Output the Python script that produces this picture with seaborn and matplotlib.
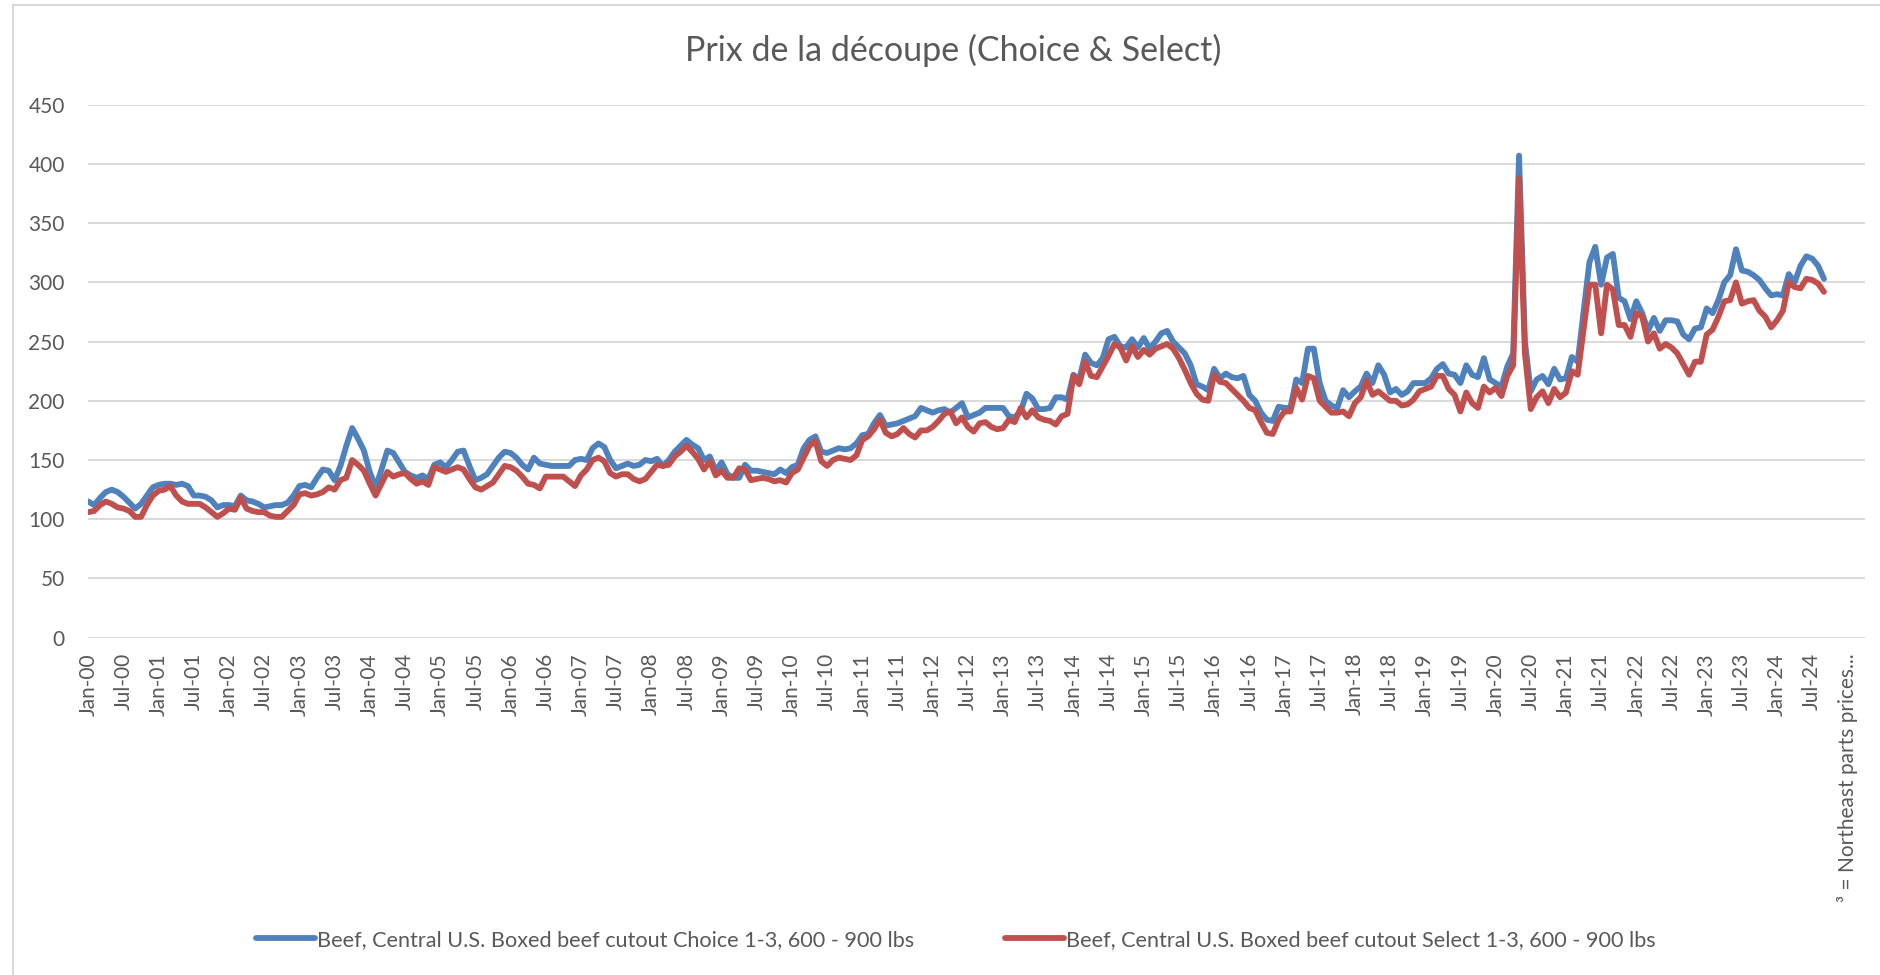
import numpy as np
import pandas as pd
import matplotlib
matplotlib.use("Agg")
import matplotlib.pyplot as plt
from matplotlib.lines import Line2D
import seaborn as sns

# ---------------- data (monthly, Jan-00 .. Sep-24) ----------------
choice = [
    115, 112, 118, 123, 125, 123, 119, 114, 109, 113, 120, 127,  # 2000
    129, 130, 130, 129, 130, 128, 120, 120, 119, 116, 110, 112,  # 2001
    112, 111, 120, 116, 115, 113, 110, 111, 112, 112, 114, 120,  # 2002
    128, 129, 127, 135, 142, 141, 133, 145, 162, 177, 168, 158,  # 2003
    140, 127, 142, 158, 156, 148, 140, 137, 135, 137, 134, 146,  # 2004
    148, 144, 150, 157, 158, 145, 133, 135, 138, 145, 152, 157,  # 2005
    156, 152, 146, 142, 152, 147, 146, 145, 145, 145, 145, 150,  # 2006
    151, 150, 160, 164, 161, 150, 143, 145, 147, 145, 146, 150,  # 2007
    149, 151, 145, 150, 157, 162, 167, 163, 160, 150, 153, 141,  # 2008
    148, 138, 135, 135, 146, 141, 141, 140, 139, 138, 142, 139,  # 2009
    144, 146, 160, 167, 170, 157, 156, 158, 160, 159, 160, 164,  # 2010
    171, 172, 181, 188, 179, 180, 181, 183, 185, 187, 194, 192,  # 2011
    190, 192, 193, 190, 194, 198, 186, 188, 190, 194, 194, 194,  # 2012
    194, 187, 186, 191, 206, 202, 193, 193, 194, 203, 203, 201,  # 2013
    222, 218, 239, 232, 230, 236, 252, 254, 246, 245, 252, 245,  # 2014
    253, 244, 250, 257, 259, 250, 245, 240, 230, 214, 212, 209,  # 2015
    227, 219, 223, 220, 219, 221, 205, 200, 190, 184, 183, 195,  # 2016
    194, 194, 218, 215, 244, 244, 215, 200, 196, 194, 209, 203,  # 2017
    208, 212, 223, 215, 230, 222, 207, 210, 205, 208, 215, 215,  # 2018
    215, 219, 227, 231, 223, 222, 215, 230, 222, 220, 236, 218,  # 2019
    215, 212, 229, 240, 407, 250, 208, 218, 221, 214, 227, 218,  # 2020
    219, 237, 233, 275, 317, 330, 298, 321, 324, 287, 284, 269,  # 2021
    284, 274, 259, 270, 259, 268, 268, 267, 256, 252, 261, 262,  # 2022
    278, 274, 285, 300, 306, 328, 310, 309, 306, 302, 295, 289,  # 2023
    290, 289, 307, 300, 314, 322, 320, 314, 303,                 # 2024
]
select = [
    106, 107, 112, 115, 113, 110, 109, 107, 102, 102, 112, 120,  # 2000
    124, 125, 128, 120, 115, 113, 113, 113, 110, 106, 102, 105,  # 2001
    109, 108, 118, 109, 107, 106, 106, 103, 102, 102, 107, 112,  # 2002
    121, 122, 120, 121, 123, 127, 125, 133, 135, 150, 146, 141,  # 2003
    130, 120, 130, 140, 136, 138, 139, 134, 130, 132, 129, 144,  # 2004
    142, 140, 142, 144, 142, 134, 127, 125, 128, 131, 138, 145,  # 2005
    144, 141, 136, 130, 129, 126, 136, 136, 136, 136, 132, 128,  # 2006
    137, 142, 150, 152, 149, 139, 136, 138, 138, 134, 132, 134,  # 2007
    140, 146, 145, 146, 153, 157, 162, 157, 151, 142, 149, 137,  # 2008
    141, 135, 135, 143, 142, 133, 134, 135, 134, 132, 133, 131,  # 2009
    139, 142, 152, 162, 166, 149, 145, 150, 152, 151, 150, 154,  # 2010
    167, 170, 176, 184, 173, 170, 172, 177, 172, 169, 175, 175,  # 2011
    178, 183, 189, 191, 181, 186, 178, 174, 181, 182, 178, 176,  # 2012
    177, 184, 182, 194, 186, 192, 186, 184, 183, 180, 187, 189,  # 2013
    221, 214, 233, 221, 220, 229, 238, 248, 245, 234, 246, 237,  # 2014
    243, 239, 244, 246, 248, 244, 236, 226, 215, 206, 201, 200,  # 2015
    222, 216, 215, 210, 205, 200, 194, 192, 182, 173, 172, 184,  # 2016
    191, 191, 211, 201, 221, 219, 200, 195, 190, 190, 191, 187,  # 2017
    198, 203, 217, 205, 208, 204, 200, 200, 196, 197, 201, 208,  # 2018
    210, 212, 221, 221, 210, 205, 191, 207, 198, 194, 212, 207,  # 2019
    211, 204, 221, 230, 388, 240, 193, 203, 208, 198, 210, 203,  # 2020
    207, 225, 222, 260, 298, 298, 257, 298, 294, 264, 264, 254,  # 2021
    274, 271, 250, 257, 244, 248, 245, 240, 231, 222, 233, 233,  # 2022
    256, 260, 271, 284, 285, 300, 282, 284, 285, 276, 271, 262,  # 2023
    268, 276, 300, 296, 295, 303, 302, 299, 292,                 # 2024
]

label_choice = "Beef, Central U.S. Boxed beef cutout Choice 1-3, 600 - 900 lbs"
label_select = "Beef, Central U.S. Boxed beef cutout Select 1-3, 600 - 900 lbs"
title = "Prix de la découpe (Choice & Select)"

# category tick labels: every 6th month + trailing note category
tick_labels = [f"{m}-{y:02d}" for y in range(25) for m in ("Jan", "Jul")] + ["³ = Northeast parts prices..."]
tick_positions = [6 * i for i in range(len(tick_labels))]
n_categories = 304
y_ticks = [0, 50, 100, 150, 200, 250, 300, 350, 400, 450]

# ---------------- styling ----------------
BLUE = "#4F81BD"
RED = "#C0504D"
TEXT = "#595959"
GRID = "#D9D9D9"

sns.set_theme(style="white")
plt.rcParams["font.family"] = ["Lato", "DejaVu Sans"]

W, H = 1880, 975
fig = plt.figure(figsize=(W / 100, H / 100), dpi=100)
fig.patch.set_facecolor("white")

ax_left, ax_right = 88.3 / W, 1865 / W
ax_top, ax_bottom = 1 - 104.7 / H, 1 - 637.7 / H
ax = fig.add_axes([ax_left, ax_bottom, ax_right - ax_left, ax_top - ax_bottom])

n = len(choice)
df = pd.DataFrame({
    "month": list(range(n)) * 2,
    "price": choice + select,
    "series": [label_choice] * n + [label_select] * len(select),
})
LW = 4.2
sns.lineplot(data=df, x="month", y="price", hue="series",
             palette=[BLUE, RED], hue_order=[label_choice, label_select],
             linewidth=LW, legend=False, ax=ax, sort=False)
for ln in ax.lines:
    ln.set_solid_joinstyle("round")
    ln.set_solid_capstyle("round")

ax.set_xlim(0, n_categories - 1)
ax.set_ylim(0, 450)
ax.set_yticks(y_ticks)
ax.set_xticks(tick_positions)
ax.set_xticklabels(tick_labels, rotation=90, va="top", ha="center")
ax.yaxis.grid(True, color=GRID, linewidth=1.4)
ax.xaxis.grid(False)
ax.set_axisbelow(True)
for s in ax.spines.values():
    s.set_visible(False)
ax.tick_params(axis="x", length=0, pad=11, labelsize=15, labelcolor=TEXT)
ax.tick_params(axis="y", length=0, pad=17, labelsize=15, labelcolor=TEXT)
ax.set_xlabel("")
ax.set_ylabel("")

fig.text(953 / W, 1 - 50 / H, title, ha="center", va="center", fontsize=24.5, color=TEXT)

handles = [Line2D([], [], color=BLUE, linewidth=LW, solid_capstyle="round"),
           Line2D([], [], color=RED, linewidth=LW, solid_capstyle="round")]
fig.legend(handles, [label_choice, label_select], loc="center",
           bbox_to_anchor=(956 / W, 1 - 940 / H), ncol=2, frameon=False,
           fontsize=15.6, handlelength=2.7, handletextpad=0.1, columnspacing=4.2,
           labelcolor=TEXT)

# chart-area border (partially visible in reference)
fig.add_artist(Line2D([12.5 / W, 12.5 / W], [0, 1 - 5 / H], transform=fig.transFigure,
                      color=GRID, linewidth=1.5))
fig.add_artist(Line2D([12.5 / W, 1], [1 - 5 / H, 1 - 5 / H], transform=fig.transFigure,
                      color=GRID, linewidth=1.5))

fig.savefig("out.png", dpi=100, facecolor="white")
